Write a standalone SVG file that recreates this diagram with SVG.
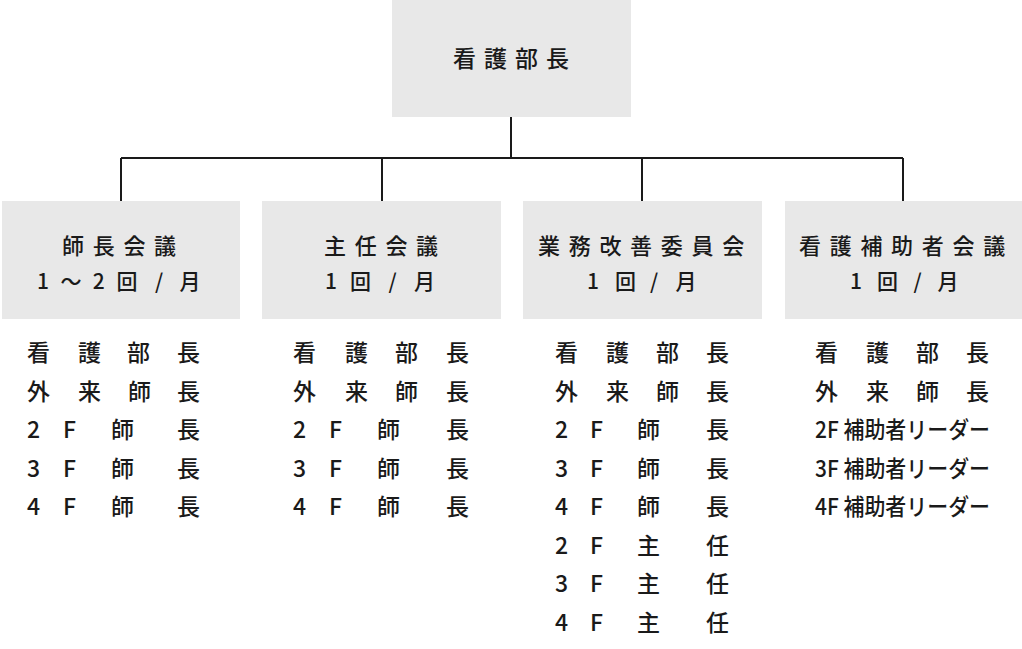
<svg xmlns="http://www.w3.org/2000/svg" width="1022" height="649" viewBox="0 0 1022 649">
<style>
.box{fill:#e8e8e8}
.t{font-family:"Noto Sans CJK JP","Noto Sans",sans-serif;fill:#1a1a1a;font-weight:500}
.h{font-size:22px;letter-spacing:8.7px}
.n{font-size:21px}
.top{font-size:23px;letter-spacing:8px}
.l{font-size:23px}
.c{stroke:#1a1a1a;stroke-width:2;fill:none}
</style>
<rect width="1022" height="649" fill="#fff"/>
<g id="connectors">
<path class="c" d="M511 117V158M121 158H903M121 158V201M382 158V201M642 158V201M903 158V201"/>
</g>
<g id="node-top">
<rect class="box" x="392" y="0" width="239" height="117"/>
<text class="t top" x="453" y="67">看護部長</text>
</g>
<g id="node-1">
<rect class="box" x="2" y="201" width="238" height="118"/>
<text class="t h" x="62" y="254">師長会議</text>
<text class="t n" x="37 60.5 92.7 116.5 155 179.5" y="289">1～2回/月</text>
</g>
<g id="node-2">
<rect class="box" x="262" y="201" width="239" height="118"/>
<text class="t h" x="324" y="254">主任会議</text>
<text class="t n" x="325 350 388.5 414" y="289">1回/月</text>
</g>
<g id="node-3">
<rect class="box" x="523" y="201" width="239" height="118"/>
<text class="t h" x="538" y="254">業務改善委員会</text>
<text class="t n" x="587 615 650 675.5" y="289">1回/月</text>
</g>
<g id="node-4">
<rect class="box" x="785" y="201" width="237" height="118"/>
<text class="t h" x="799" y="254">看護補助者会議</text>
<text class="t n" x="850 877 913.5 937.5" y="289">1回/月</text>
</g>
<g id="list-1">
<text class="t l" x="27 78 127 177" y="361">看護部長</text>
<text class="t l" x="27 78 128 177" y="399.5">外来師長</text>
<text class="t l" x="27 63 111 177" y="438">2F師長</text>
<text class="t l" x="27 63 111 177" y="476.5">3F師長</text>
<text class="t l" x="27 63 111 177" y="515">4F師長</text>
</g>
<g id="list-2">
<text class="t l" x="293 345 395 446" y="361">看護部長</text>
<text class="t l" x="293 345 395 446" y="399.5">外来師長</text>
<text class="t l" x="293 329 377 446" y="438">2F師長</text>
<text class="t l" x="293 329 377 446" y="476.5">3F師長</text>
<text class="t l" x="293 329 377 446" y="515">4F師長</text>
</g>
<g id="list-3">
<text class="t l" x="555 606 656 706" y="361">看護部長</text>
<text class="t l" x="555 606 656 706" y="399.5">外来師長</text>
<text class="t l" x="555 590 637 706" y="438">2F師長</text>
<text class="t l" x="555 590 637 706" y="476.5">3F師長</text>
<text class="t l" x="555 590 637 706" y="515">4F師長</text>
<text class="t l" x="555 590 637 706" y="553.5">2F主任</text>
<text class="t l" x="555 590 637 706" y="592">3F主任</text>
<text class="t l" x="555 590 637 706" y="630.5">4F主任</text>
</g>
<g id="list-4">
<text class="t l" x="815 866 916 966" y="361">看護部長</text>
<text class="t l" x="815 866 916 966" y="399.5">外来師長</text>
<text class="t l" x="815" y="438" textLength="175" lengthAdjust="spacingAndGlyphs">2F 補助者リーダー</text>
<text class="t l" x="815" y="476.5" textLength="175" lengthAdjust="spacingAndGlyphs">3F 補助者リーダー</text>
<text class="t l" x="815" y="515" textLength="175" lengthAdjust="spacingAndGlyphs">4F 補助者リーダー</text>
</g>
</svg>
